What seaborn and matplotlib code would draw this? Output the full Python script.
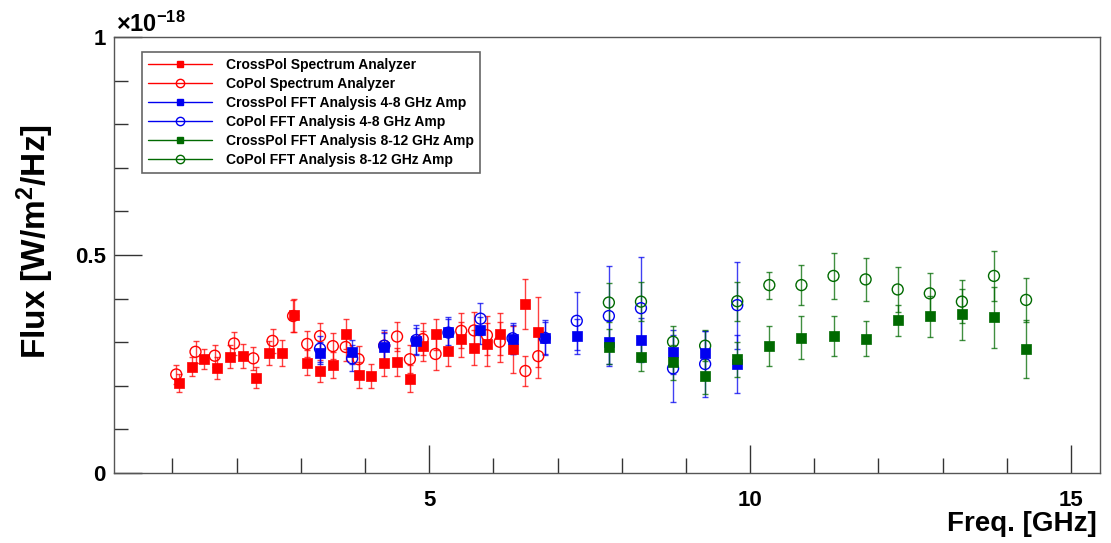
import matplotlib
matplotlib.use("Agg")
import matplotlib.pyplot as plt
from matplotlib.lines import Line2D
from matplotlib.ticker import MultipleLocator
import seaborn as sns
import pandas as pd

# Flux spectra (units of 1e-18 W/m^2/Hz) versus frequency in GHz
sa_cross_freq = [1.1, 1.3, 1.5, 1.7, 1.9, 2.1, 2.3, 2.5, 2.7, 2.9, 3.1, 3.3, 3.5, 3.7, 3.9,
                 4.1, 4.3, 4.5, 4.7, 4.9, 5.1, 5.3, 5.5, 5.7, 5.9, 6.1, 6.3, 6.5, 6.7]
sa_cross_flux = [0.206, 0.244, 0.261, 0.240, 0.267, 0.268, 0.219, 0.275, 0.276, 0.362, 0.253,
                 0.234, 0.248, 0.319, 0.225, 0.223, 0.253, 0.255, 0.216, 0.291, 0.318, 0.280,
                 0.307, 0.287, 0.295, 0.318, 0.284, 0.388, 0.323]
sa_cross_err = [0.020, 0.022, 0.023, 0.025, 0.026, 0.027, 0.023, 0.027, 0.030, 0.038, 0.029,
                0.026, 0.029, 0.034, 0.029, 0.028, 0.031, 0.032, 0.031, 0.035, 0.035, 0.034,
                0.040, 0.040, 0.050, 0.048, 0.054, 0.057, 0.080]

sa_co_freq = [1.06, 1.36, 1.66, 1.96, 2.26, 2.56, 2.88, 3.1, 3.3, 3.5, 3.7, 3.9, 4.3, 4.5,
              4.7, 4.9, 5.1, 5.5, 5.7, 5.9, 6.1, 6.5, 6.7]
sa_co_flux = [0.226, 0.278, 0.269, 0.297, 0.263, 0.303, 0.360, 0.296, 0.314, 0.291, 0.289,
              0.261, 0.292, 0.313, 0.261, 0.307, 0.273, 0.326, 0.327, 0.316, 0.301, 0.234, 0.268]
sa_co_err = [0.022, 0.025, 0.025, 0.027, 0.026, 0.028, 0.036, 0.030, 0.030, 0.030, 0.032,
             0.030, 0.032, 0.034, 0.032, 0.036, 0.036, 0.040, 0.042, 0.045, 0.046, 0.035, 0.050]

fft48_freq = [3.3, 3.8, 4.3, 4.8, 5.3, 5.8, 6.3, 6.8, 7.3, 7.8, 8.3, 8.8, 9.3, 9.8]
fft48_cross_flux = [0.275, 0.278, 0.290, 0.303, 0.323, 0.327, 0.307, 0.309, 0.314, 0.301,
                    0.305, 0.278, 0.275, 0.250]
fft48_cross_err = [0.025, 0.027, 0.030, 0.030, 0.030, 0.030, 0.033, 0.037, 0.040, 0.050,
                   0.050, 0.050, 0.050, 0.067]
fft48_co_flux = [0.285, 0.263, 0.292, 0.305, 0.322, 0.354, 0.309, 0.310, 0.349, 0.360,
                 0.378, 0.240, 0.250, 0.385]
fft48_co_err = [0.030, 0.030, 0.036, 0.034, 0.035, 0.037, 0.035, 0.040, 0.067, 0.115,
                0.118, 0.077, 0.075, 0.100]

fft812_freq = [7.8, 8.3, 8.8, 9.3, 9.8, 10.3, 10.8, 11.3, 11.8, 12.3, 12.8, 13.3, 13.8, 14.3]
fft812_cross_flux = [0.290, 0.267, 0.254, 0.222, 0.261, 0.292, 0.310, 0.315, 0.308, 0.350,
                     0.359, 0.364, 0.357, 0.284]
fft812_cross_err = [0.040, 0.034, 0.040, 0.040, 0.040, 0.046, 0.049, 0.046, 0.040, 0.036,
                    0.046, 0.059, 0.070, 0.066]
fft812_co_flux = [0.391, 0.393, 0.301, 0.292, 0.394, 0.431, 0.431, 0.452, 0.444, 0.421,
                  0.412, 0.393, 0.452, 0.397]
fft812_co_err = [0.045, 0.045, 0.036, 0.035, 0.045, 0.031, 0.046, 0.053, 0.050, 0.052,
                 0.047, 0.050, 0.057, 0.051]

series_labels = ["CrossPol Spectrum Analyzer", "CoPol Spectrum Analyzer",
                 "CrossPol FFT Analysis 4-8 GHz Amp", "CoPol FFT Analysis 4-8 GHz Amp",
                 "CrossPol FFT Analysis 8-12 GHz Amp", "CoPol FFT Analysis 8-12 GHz Amp"]
y_ticks = [0, 0.5, 1]
y_tick_labels = ["0", "0.5", "1"]
x_ticks = [5, 10, 15]
x_tick_labels = ["5", "10", "15"]

RED, BLUE, GREEN = "#ff0000", "#0000f0", "#006a00"

sns.set_theme(style="white")
plt.rcParams["font.family"] = ["Liberation Sans", "DejaVu Sans"]
plt.rcParams["font.weight"] = "bold"
plt.rcParams["text.color"] = "black"
plt.rcParams["axes.labelcolor"] = "black"
plt.rcParams["xtick.color"] = "black"
plt.rcParams["ytick.color"] = "black"
plt.rcParams["mathtext.fontset"] = "custom"
plt.rcParams["mathtext.rm"] = "Liberation Sans:bold"
plt.rcParams["mathtext.bf"] = "Liberation Sans:bold"
plt.rcParams["mathtext.it"] = "Liberation Sans:bold:italic"
plt.rcParams["mathtext.default"] = "rm"

frames = []
specs = [
    (sa_cross_freq, sa_cross_flux, sa_cross_err, series_labels[0], RED, True),
    (sa_co_freq, sa_co_flux, sa_co_err, series_labels[1], RED, False),
    (fft48_freq, fft48_cross_flux, fft48_cross_err, series_labels[2], BLUE, True),
    (fft48_freq, fft48_co_flux, fft48_co_err, series_labels[3], BLUE, False),
    (fft812_freq, fft812_cross_flux, fft812_cross_err, series_labels[4], GREEN, True),
    (fft812_freq, fft812_co_flux, fft812_co_err, series_labels[5], GREEN, False),
]
for f, v, e, lab, col, filled in specs:
    frames.append(pd.DataFrame({"freq": f, "flux": v, "err": e, "series": lab}))
data = pd.concat(frames, ignore_index=True)

fig = plt.figure(figsize=(11.11, 5.43), dpi=100)
ax = fig.add_axes([0.1026, 0.1289, 0.8874, 0.8030])

for f, v, e, lab, col, filled in specs:
    sub = data[data["series"] == lab]
    ax.errorbar(sub["freq"], sub["flux"], yerr=sub["err"], fmt="none", ecolor=col,
                elinewidth=1.0, capsize=2.2, capthick=1.0, alpha=0.75, zorder=2)
    if filled:
        sns.scatterplot(data=sub, x="freq", y="flux", ax=ax, marker="s", s=44,
                        color=col, edgecolor=col, linewidth=0.5, zorder=4, legend=False)
    else:
        sns.scatterplot(data=sub, x="freq", y="flux", ax=ax, marker="o", s=62,
                        color=col, facecolor="none", edgecolor=col, linewidth=1.0,
                        zorder=3, legend=False)

ax.set_xlim(0.09, 15.45)
ax.set_ylim(0, 1)
ax.set_xticks(x_ticks)
ax.set_xticklabels(x_tick_labels)
ax.set_yticks(y_ticks)
ax.set_yticklabels(y_tick_labels)
ax.xaxis.set_minor_locator(MultipleLocator(1))
ax.yaxis.set_minor_locator(MultipleLocator(0.1))
ax.tick_params(axis="x", which="major", direction="in", length=20, width=1,
               color="#333333", labelsize=16, pad=12, bottom=True, top=False)
ax.tick_params(axis="x", which="minor", direction="in", length=11, width=1,
               color="#333333", bottom=True, top=False)
ax.tick_params(axis="y", which="major", direction="in", length=20, width=1,
               color="#333333", labelsize=16, pad=6, left=True, right=False)
ax.tick_params(axis="y", which="minor", direction="in", length=10, width=1,
               color="#333333", left=True, right=False)
for sp in ax.spines.values():
    sp.set_color("#555555")
    sp.set_linewidth(1.0)

ax.set_xlabel("Freq. [GHz]", fontsize=20, fontweight="bold", ha="right", va="center")
ax.xaxis.set_label_coords(0.997, -0.118)
ax.set_ylabel("Flux [W/m$^{2}$/Hz]", fontsize=24, fontweight="bold", va="center", ha="center")
ax.yaxis.set_label_coords(-0.080, 0.531)

ax.text(0.002, 1.0, r"$\times$10$^{-18}$", transform=ax.transAxes, fontsize=17,
        fontweight="bold", ha="left", va="bottom")

handles = []
for f, v, e, lab, col, filled in specs:
    if filled:
        h = Line2D([], [], color=col, lw=1.0, marker="s", markersize=5,
                   markerfacecolor=col, markeredgecolor=col)
    else:
        h = Line2D([], [], color=col, lw=1.0, marker="o", markersize=6,
                   markerfacecolor="none", markeredgecolor=col)
    handles.append(h)
leg = ax.legend(handles, series_labels, loc="upper left", bbox_to_anchor=(0.0284, 0.9656),
                borderaxespad=0, prop={"weight": "bold", "size": 10}, handlelength=4.6,
                handletextpad=1.0, labelspacing=0.36, borderpad=0.45, fancybox=False,
                framealpha=1, edgecolor="#666666")
leg.get_frame().set_linewidth(1.2)
for t in leg.get_texts():
    t.set_color("black")

fig.savefig("out.png", dpi=100, facecolor="white")
